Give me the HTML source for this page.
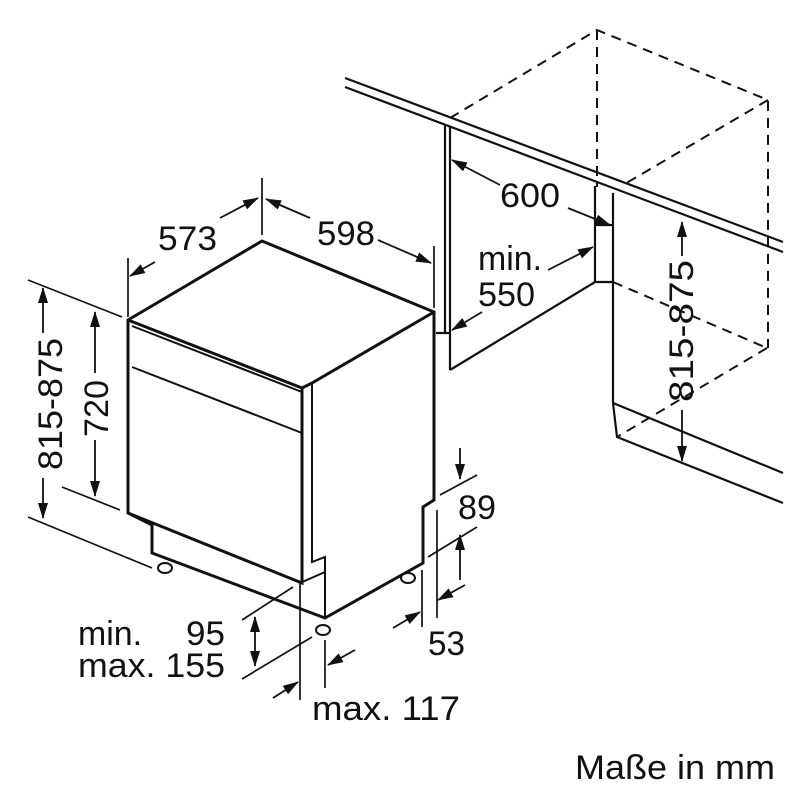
<!DOCTYPE html>
<html><head><meta charset="utf-8"><style>
html,body{margin:0;padding:0;background:#fff;}
svg{display:block;}
text{font-family:"Liberation Sans",Arial,sans-serif;fill:#111;}
</style></head><body>
<svg width="800" height="800" viewBox="0 0 800 800" xmlns="http://www.w3.org/2000/svg">
<defs>
<marker id="a" markerWidth="16" markerHeight="10" refX="15" refY="5" orient="auto" markerUnits="userSpaceOnUse">
<path d="M0,0 L16,5 L0,10 Z" fill="#111"/></marker>
</defs>
<g fill="none" stroke="#111" stroke-linejoin="miter">
<!-- dashed cabinet -->
<g stroke-dasharray="10,7" stroke-width="2">
<path d="M450,118 L597,30 L768,100 L768,348"/>
<path d="M597,30 L597,187"/>
<path d="M768,100 L623,185"/>
<path d="M613,282 L767,348"/>
<path d="M767,348 L617,437"/>
</g>
<!-- countertop -->
<g stroke-width="2.2">
<path d="M345,78 L783,242"/>
<path d="M345,87 L783,252"/>
<!-- left cabinet -->
<path d="M445,125 L445,333 M450,127 L450,370 M436,333 L450,333 L450,340"/>
<path d="M450,370 L595,282 L613,282"/>
<path d="M595,186 L595,282 M613,193 L613,403 M595,225 L613,225"/>
<path d="M613,403 L783,473 M613,403 L617,437 L783,503"/>
</g>
<!-- dishwasher -->
<g stroke-width="3">
<path d="M128,320 L262,241 L434,312 L434,500 L423,507 L423,563 L325,618 L152,553 L152,525 L128,513 Z"/>
<path d="M128,320 L302,388 L312,383 L434,312"/>
<path d="M302,388 L302,583 L128,513"/>
</g>
<g stroke-width="2">
<path d="M132,326 L302,392"/>
<path d="M132,367 L302,433"/>
<path d="M312,383 L312,562 L325,557 L325,618"/>
<path d="M300,583 L325,572"/>
</g>
<!-- feet -->
<g stroke-width="2" fill="#fff">
<ellipse cx="165" cy="568" rx="7" ry="5"/>
<ellipse cx="323" cy="630" rx="7" ry="5"/>
<ellipse cx="408" cy="578" rx="7" ry="5"/>
</g>
<!-- dimension/extension lines -->
<g stroke-width="1.7">
<path d="M262,178 L262,235 M128,258 L128,317 M434,246 L434,308"/>
<path d="M28,280 L122,317 M28,517 L152,568 M62,487 L120,510"/>
<path d="M440,495 L477,475 M428,557 L477,527"/>
<path d="M422,570 L422,627 M437,510 L437,618"/>
<path d="M242,620 L293,587 M242,679 L312,637"/>
<path d="M300,583 L300,700 M325,640 L325,688"/>
</g>
<g stroke-width="1.8" marker-end="url(#a)">
<path d="M220,218 L258,198"/>
<path d="M155,262 L130,276"/>
<path d="M310,218 L266,199"/>
<path d="M378,240 L431,263"/>
<path d="M43,333 L43,288"/>
<path d="M43,478 L43,518"/>
<path d="M95,373 L95,312"/>
<path d="M95,440 L95,496"/>
<path d="M500,185 L452,160"/>
<path d="M568,208 L610,225"/>
<path d="M548,270 L593,247"/>
<path d="M482,312 L452,330"/>
<path d="M682,256 L682,222"/>
<path d="M682,410 L682,461"/>
<path d="M460,448 L460,479"/>
<path d="M460,580 L460,535"/>
<path d="M465,585 L438,600"/>
<path d="M393,628 L420,612"/>
<path d="M255,640 L255,617"/>
<path d="M255,640 L255,666"/>
<path d="M273,698 L298,682"/>
<path d="M355,650 L328,665"/>
</g>
</g>
<!-- labels -->
<g font-size="34">
<text x="158" y="250" textLength="59" lengthAdjust="spacingAndGlyphs">573</text>
<text x="317" y="245" textLength="58" lengthAdjust="spacingAndGlyphs">598</text>
<text transform="translate(62,470) rotate(-90)" textLength="132" lengthAdjust="spacingAndGlyphs">815-875</text>
<text transform="translate(108,437) rotate(-90)" textLength="57" lengthAdjust="spacingAndGlyphs">720</text>
<text x="500" y="207" textLength="60" lengthAdjust="spacingAndGlyphs">600</text>
<text x="478" y="270" textLength="64" lengthAdjust="spacingAndGlyphs">min.</text>
<text x="478" y="306" textLength="57" lengthAdjust="spacingAndGlyphs">550</text>
<text transform="translate(693,402) rotate(-90)" textLength="142" lengthAdjust="spacingAndGlyphs">815-875</text>
<text x="458" y="519" textLength="38" lengthAdjust="spacingAndGlyphs">89</text>
<text x="428" y="655" textLength="37" lengthAdjust="spacingAndGlyphs">53</text>
<text x="78" y="645" textLength="64" lengthAdjust="spacingAndGlyphs">min.</text>
<text x="186" y="645" textLength="39" lengthAdjust="spacingAndGlyphs">95</text>
<text x="78" y="677" textLength="147" lengthAdjust="spacingAndGlyphs">max. 155</text>
<text x="312" y="720" textLength="148" lengthAdjust="spacingAndGlyphs">max. 117</text>
<text x="575" y="779" textLength="200" lengthAdjust="spacingAndGlyphs">Maße in mm</text>
</g>
</svg>
</body></html>
